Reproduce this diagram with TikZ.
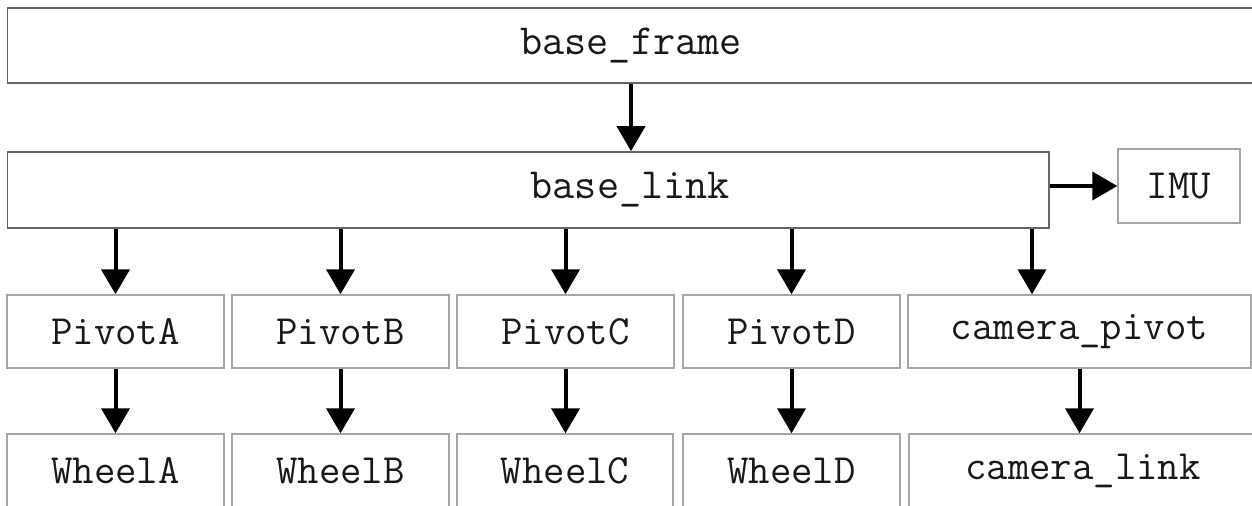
\documentclass[tikz,border=0pt]{standalone}
\usepackage{fontspec}
\usetikzlibrary{arrows.meta}
\begin{document}
\begin{tikzpicture}[x=0.5pt,y=-0.5pt,
  bigbox/.style={draw=black!60, line width=0.8pt, rectangle, inner sep=0pt,
    font=\ttfamily\fontsize{21.5}{22}\selectfont, text=black!90},
  smallbox/.style={draw=black!35, line width=0.7pt, rectangle, inner sep=0pt,
    font=\ttfamily\fontsize{20.8}{22}\selectfont, text=black!90,
    minimum height=36.5pt, minimum width=108.5pt},
  arr/.style={-{Triangle[length=12.5pt,width=14pt]}, line width=2pt, black}]
\useasboundingbox (0,0) rectangle (1252,506);
% top level
\node[bigbox, minimum width=623.5pt, minimum height=37.5pt] (base_frame) at (631,45.5) {base\_frame};
\node[bigbox, minimum width=520.75pt, minimum height=38pt] (base_link) at (528.25,190) {\hspace*{102pt}base\_link};
\node[smallbox, minimum width=61pt, minimum height=37pt] (IMU) at (1179,186) {IMU};
% pivots
\node[smallbox] (PivotA) at (115.5,331.5) {PivotA};
\node[smallbox] (PivotB) at (340.5,331.5) {PivotB};
\node[smallbox] (PivotC) at (565.5,331.5) {PivotC};
\node[smallbox] (PivotD) at (791.5,331.5) {PivotD};
\node[smallbox, minimum width=171.5pt] (camera_pivot) at (1079.5,331.5) {camera\_pivot};
% wheels
\node[smallbox] (WheelA) at (115.5,470.5) {WheelA};
\node[smallbox] (WheelB) at (340.5,470.5) {WheelB};
\node[smallbox, minimum width=108pt] (WheelC) at (565,470.5) {WheelC};
\node[smallbox] (WheelD) at (791.5,470.5) {WheelD};
\node[smallbox, minimum width=174pt] (camera_link) at (1083,470.5) {camera\_link};
\coordinate (camX) at (1032,0);
% connectors
\draw[arr] (base_frame.south) -- (base_frame.south |- base_link.north);
\draw[arr] (base_link.east |- IMU.west) -- (IMU.west);
\draw[arr] (base_link.south -| PivotA) -- (PivotA.north);
\draw[arr] (base_link.south -| PivotB) -- (PivotB.north);
\draw[arr] (base_link.south -| PivotC) -- (PivotC.north);
\draw[arr] (base_link.south -| PivotD) -- (PivotD.north);
\draw[arr] (base_link.south -| camX) -- (camera_pivot.north -| camX);
\draw[arr] (PivotA.south) -- (WheelA.north -| PivotA.south);
\draw[arr] (PivotB.south) -- (WheelB.north -| PivotB.south);
\draw[arr] (PivotC.south) -- (WheelC.north -| PivotC.south);
\draw[arr] (PivotD.south) -- (WheelD.north -| PivotD.south);
\draw[arr] (camera_pivot.south) -- (camera_link.north -| camera_pivot.south);
\end{tikzpicture}
\end{document}
